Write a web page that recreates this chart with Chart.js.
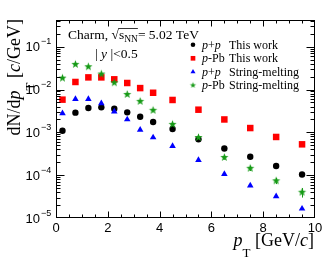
<!DOCTYPE html>
<html>
<head>
<meta charset="utf-8">
<script src="https://cdn.jsdelivr.net/npm/chart.js@4.4.1/dist/chart.umd.min.js"></script>
<style>
html,body{margin:0;padding:0;background:#fff;}
#wrap{width:331px;height:263px;}
</style>
</head>
<body>
<div id="wrap"><canvas id="c" width="331" height="263"></canvas></div>
<script>
// ---- data ----
const pT = [0.25, 0.75, 1.25, 1.75, 2.25, 2.75, 3.25, 3.75, 4.5, 5.5, 6.5, 7.5, 8.5, 9.5];
const ppThisWork = [1.09e-3, 2.88e-3, 3.7e-3, 3.83e-3, 3.57e-3, 2.93e-3, 2.32e-3, 1.74e-3, 1.2e-3, 6.9e-4, 4.2e-4, 2.7e-4, 1.64e-4, 1.04e-4];
const pPbThisWork = [5.8e-3, 1.5e-2, 1.92e-2, 1.92e-2, 1.73e-2, 1.42e-2, 1.08e-2, 8.4e-3, 5.7e-3, 3.38e-3, 2.0e-3, 1.26e-3, 7.8e-4, 5.25e-4];
const ppStringMelting = [2.78e-3, 6.0e-3, 6.0e-3, 4.75e-3, 3.04e-3, 2.0e-3, 1.15e-3, 7.6e-4, 4.8e-4, 2.26e-4, 1.06e-4, 5.7e-5, 3.2e-5, 1.65e-5];
const pPbStringMelting = [1.85e-2, 3.87e-2, 3.41e-2, 2.3e-2, 1.44e-2, 7.7e-3, 5.3e-3, 3.27e-3, 1.54e-3, 7.6e-4, 2.6e-4, 1.45e-4, 7.4e-5, 4.0e-5];
const pPbStringMeltingErr = [0, 0, 0, 0, 0, 0, 0, 0, 0, 0, 3e-5, 2e-5, 1.2e-5, 1.0e-5];
const xTickLabels = ['0', '2', '4', '6', '8', '10'];
const yTickExponents = [-5, -4, -3, -2, -1];
const seriesLabels = [
  ['p+p', 'This work'],
  ['p-Pb', 'This work'],
  ['p+p', 'String-melting'],
  ['p-Pb', 'String-melting']
];

const SERIF = '"Liberation Serif", "Times New Roman", serif';
const SANS = '"Liberation Sans", Arial, sans-serif';
const GREEN = '#169a16';

function makeStar(R, color) {
  const c = document.createElement('canvas');
  const s = Math.ceil(R * 2 + 2);
  c.width = s; c.height = s;
  const g = c.getContext('2d');
  const cx = s / 2, cy = s / 2, r = R * 0.42;
  g.beginPath();
  for (let i = 0; i < 10; i++) {
    const a = -Math.PI / 2 + i * Math.PI / 5;
    const rr = i % 2 === 0 ? R : r;
    const px = cx + rr * Math.cos(a), py = cy + rr * Math.sin(a);
    if (i === 0) g.moveTo(px, py); else g.lineTo(px, py);
  }
  g.closePath();
  g.fillStyle = color;
  g.fill();
  return c;
}
const starBig = makeStar(4.3, GREEN);
const starSmall = makeStar(3.2, GREEN);

function pts(arr) { return arr.map((v, i) => ({ x: pT[i], y: v })); }

function drawRuns(ctx, x, y, runs, align) {
  let w = 0;
  runs.forEach(r => { ctx.font = r.f; r.w = ctx.measureText(r.t).width; w += r.w; });
  let cx = align === 'right' ? x - w : x;
  runs.forEach(r => { ctx.font = r.f; r.x = cx; ctx.fillText(r.t, cx, y + (r.dy || 0)); cx += r.w; });
  return runs;
}

const decor = {
  id: 'decor',
  beforeDatasetsDraw(chart) {
    const ctx = chart.ctx, ca = chart.chartArea;
    const xs = chart.scales.x, ys = chart.scales.y;
    ctx.save();
    // error bars (green series)
    ctx.strokeStyle = GREEN; ctx.lineWidth = 1;
    pPbStringMelting.forEach((v, i) => {
      const e = pPbStringMeltingErr[i];
      if (!e) return;
      const px = Math.round(xs.getPixelForValue(pT[i])) + 0.5;
      ctx.beginPath();
      ctx.moveTo(px, ys.getPixelForValue(v + e));
      ctx.lineTo(px, ys.getPixelForValue(v - e));
      ctx.stroke();
    });
    ctx.restore();
  },
  afterDraw(chart) {
    const ctx = chart.ctx, ca = chart.chartArea;
    const xs = chart.scales.x, ys = chart.scales.y;
    const L = Math.round(ca.left) + 0.5, R = Math.round(ca.right) - 0.5;
    const T = Math.round(ca.top) + 0.5, B = Math.round(ca.bottom) - 0.5;
    ctx.save();
    ctx.strokeStyle = '#000'; ctx.lineWidth = 1;
    ctx.strokeRect(L, T, R - L, B - T);
    ctx.beginPath();
    // x ticks
    for (let v = 0.5; v < 10; v += 0.5) {
      const px = Math.round(xs.getPixelForValue(v)) + 0.5;
      const len = (Math.abs(v / 2 - Math.round(v / 2)) < 1e-9) ? 6 : 3;
      ctx.moveTo(px, B); ctx.lineTo(px, B - len);
      ctx.moveTo(px, T); ctx.lineTo(px, T + len);
    }
    // y ticks
    const ymax = ys.max;
    for (let e = -5; e <= 0; e++) {
      for (let k = 1; k <= 9; k++) {
        const val = k * Math.pow(10, e);
        if (val > ymax || val <= ys.min * 1.0001 && k === 1 && e === -5) continue;
        const py = Math.round(ys.getPixelForValue(val)) + 0.5;
        const len = k === 1 ? 8 : 4;
        ctx.moveTo(L, py); ctx.lineTo(L + len, py);
        ctx.moveTo(R, py); ctx.lineTo(R - len, py);
      }
    }
    ctx.stroke();

    ctx.fillStyle = '#000';
    ctx.textBaseline = 'alphabetic';
    // x tick labels
    ctx.font = '13px ' + SANS;
    ctx.textAlign = 'center';
    xTickLabels.forEach(t => {
      const px = xs.getPixelForValue(parseFloat(t));
      ctx.fillText(t, px, 232);
    });
    // y tick labels
    yTickExponents.forEach(e => {
      const py = ys.getPixelForValue(Math.pow(10, e));
      ctx.textAlign = 'right';
      ctx.font = '13px ' + SANS;
      ctx.fillText('10', 40, py + 4.7);
      ctx.textAlign = 'left';
      ctx.font = '9px ' + SANS;
      ctx.fillText('\u2212' + Math.abs(e), 41, py - 2.3);
    });
    ctx.textAlign = 'left';

    // x title
    drawRuns(ctx, 314, 246, [
      { t: 'p', f: 'italic 18px ' + SERIF },
      { t: 'T', f: '13px ' + SERIF, dy: 11 },
      { t: ' [GeV/', f: '18px ' + SERIF },
      { t: 'c', f: 'italic 18px ' + SERIF },
      { t: ']', f: '18px ' + SERIF }
    ], 'right');

    // y title
    ctx.save();
    ctx.translate(20, 0);
    ctx.rotate(-Math.PI / 2);
    drawRuns(ctx, -19, 0, [
      { t: 'dN/d', f: '18px ' + SERIF },
      { t: 'p', f: 'italic 18px ' + SERIF },
      { t: 'T', f: '13px ' + SERIF, dy: 14 },
      { t: ' [', f: '18px ' + SERIF },
      { t: 'c', f: 'italic 18px ' + SERIF },
      { t: '/GeV]', f: '18px ' + SERIF }
    ], 'right');
    ctx.restore();

    // annotation
    const ann = drawRuns(ctx, 68, 38.5, [
      { t: 'Charm, ', f: '13.5px ' + SERIF },
      { t: '\u221A', f: '13.5px ' + SERIF },
      { t: 's', f: '13.5px ' + SERIF },
      { t: 'NN', f: '9.5px ' + SERIF, dy: 3 },
      { t: '= 5.02 TeV', f: '13.5px ' + SERIF }
    ], 'left');
    ctx.beginPath();
    ctx.lineWidth = 0.8;
    ctx.moveTo(ann[1].x + ann[1].w - 0.5, 28.5);
    ctx.lineTo(ann[3].x + ann[3].w, 28.5);
    ctx.stroke();
    drawRuns(ctx, 95, 57.5, [
      { t: '| ', f: '13.5px ' + SERIF },
      { t: 'y', f: 'italic 13.5px ' + SERIF },
      { t: ' |<0.5', f: '13.5px ' + SERIF }
    ], 'left');

    // legend
    const rowsY = [48.5, 62, 75.5, 89];
    const markers = [
      { style: 'circle', r: 2.3, c: '#000' },
      { style: 'rect', r: 3.3, c: '#ff0000' },
      { style: 'triangle', r: 2.9, c: '#0000ff' },
      { style: starSmall, r: 3, c: GREEN }
    ];
    seriesLabels.forEach((lab, i) => {
      const y = rowsY[i];
      const m = markers[i];
      ctx.fillStyle = m.c; ctx.strokeStyle = m.c;
      Chart.helpers.drawPoint(ctx, { pointStyle: m.style, radius: m.r, rotation: 0, borderWidth: 0 }, 193, y - 3.7);
      ctx.fillStyle = '#000';
      const parts = lab[0] === 'p+p'
        ? [{ t: 'p', f: 'italic 12px ' + SERIF }, { t: '+', f: '12px ' + SERIF }, { t: 'p', f: 'italic 12px ' + SERIF }]
        : [{ t: 'p', f: 'italic 12px ' + SERIF }, { t: '-Pb', f: '12px ' + SERIF }];
      drawRuns(ctx, 202, y, parts, 'left');
      ctx.font = '12px ' + SERIF;
      ctx.fillText(lab[1], 229, y);
    });
    ctx.restore();
  }
};

new Chart(document.getElementById('c'), {
  type: 'scatter',
  data: {
    datasets: [
      { label: 'p+p This work', data: pts(ppThisWork), pointStyle: 'circle', pointRadius: 3.2, backgroundColor: '#000', borderColor: '#000', borderWidth: 0, order: 4 },
      { label: 'p-Pb This work', data: pts(pPbThisWork), pointStyle: 'rect', pointRadius: 4.6, backgroundColor: '#ff0000', borderColor: '#ff0000', borderWidth: 0, order: 3 },
      { label: 'p+p String-melting', data: pts(ppStringMelting), pointStyle: 'triangle', pointRadius: 3.8, backgroundColor: '#0000ff', borderColor: '#0000ff', borderWidth: 0, order: 2 },
      { label: 'p-Pb String-melting', data: pts(pPbStringMelting), pointStyle: starBig, pointRadius: 4, backgroundColor: GREEN, borderColor: GREEN, borderWidth: 0, order: 1 }
    ]
  },
  options: {
    responsive: false,
    animation: false,
    layout: { padding: { left: 56, right: 16, top: 20, bottom: 45 } },
    plugins: { legend: { display: false }, tooltip: { enabled: false } },
    scales: {
      x: { type: 'linear', min: 0, max: 10, display: false },
      y: { type: 'logarithmic', min: 1e-5, max: 0.42, display: false }
    }
  },
  plugins: [decor]
});
</script>
</body>
</html>
